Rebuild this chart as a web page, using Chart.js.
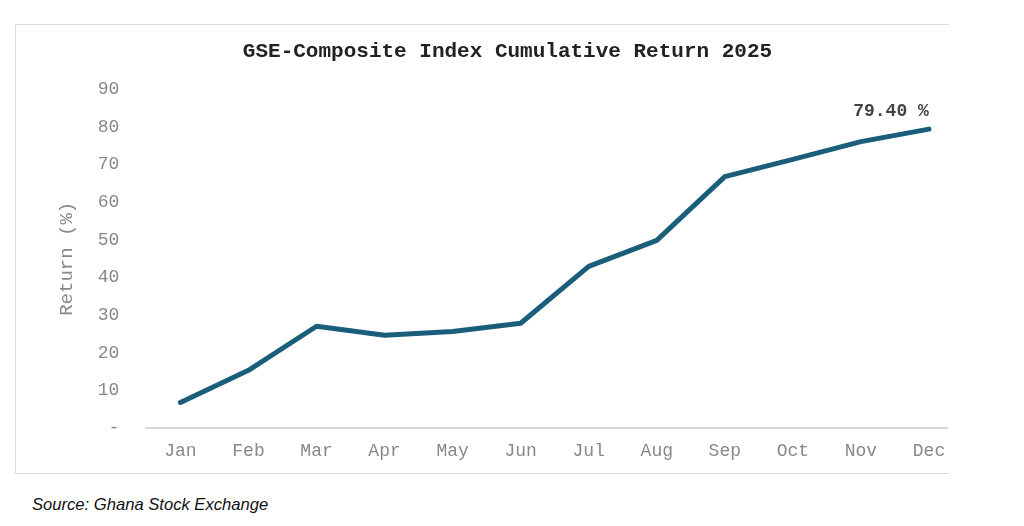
<!DOCTYPE html>
<html>
<head>
<meta charset="utf-8">
<script src="https://cdn.jsdelivr.net/npm/chart.js@4"></script>
<style>
    body { margin: 0; background: #fff; }
    #clip { position: absolute; left: 0; top: 0; width: 948px; height: 473px; overflow: hidden; }
    #box { position: relative; width: 965px; height: 477px; }
    #frame {
        position: absolute; left: 15px; top: 24px; width: 933px; height: 448px;
        border-top: 1.5px solid #dcdcdc; border-left: 1.5px solid #dcdcdc; border-bottom: 1.5px solid #dcdcdc;
        pointer-events: none;
    }
    #source {
        position: absolute; left: 32px; top: 495px;
        font: italic 16.6px "Liberation Sans", Arial, sans-serif; color: #111;
    }
</style>
</head>
<body>
<div id="clip"><div id="box"><canvas id="returnChart"></canvas></div></div>
<div id="frame"></div>
<div id="source">Source: Ghana Stock Exchange</div>
<script>
// Monthly cumulative return of the GSE-CI
const months = ["Jan", "Feb", "Mar", "Apr", "May", "Jun", "Jul", "Aug", "Sep", "Oct", "Nov", "Dec"];
const cumulativeReturn = [6.9, 15.4, 27.1, 24.7, 25.7, 27.9, 43.0, 49.9, 66.8, 71.4, 76.1, 79.4];
const yTicks = [0, 10, 20, 30, 40, 50, 60, 70, 80, 90];

const mono = "'Liberation Mono', 'Courier New', monospace";

// Writes the final value above the last point
const lastValueLabel = {
    id: 'lastValueLabel',
    afterDatasetsDraw(chart) {
        const meta = chart.getDatasetMeta(0);
        const last = meta.data[meta.data.length - 1];
        const value = cumulativeReturn[cumulativeReturn.length - 1];
        const ctx = chart.ctx;
        ctx.save();
        ctx.font = "bold 18px " + mono;
        ctx.fillStyle = "#444";
        ctx.textAlign = "center";
        ctx.textBaseline = "middle";
        ctx.fillText(value.toFixed(2) + " %", last.x - 38, last.y - 18);
        ctx.restore();
    }
};

document.addEventListener("DOMContentLoaded", () => {
    const ctx = document.getElementById("returnChart").getContext("2d");
    new Chart(ctx, {
        type: "line",
        data: {
            labels: months,
            datasets: [{
                data: cumulativeReturn,
                borderColor: "#1b5e7b",
                borderWidth: 5,
                borderCapStyle: "round",
                borderJoinStyle: "round",
                pointRadius: 0,
                tension: 0,
                fill: false
            }]
        },
        options: {
            responsive: true,
            maintainAspectRatio: false,
            animation: false,
            layout: { padding: { top: 24, left: 52, right: 2, bottom: 3 } },
            plugins: {
                legend: { display: false },
                tooltip: { enabled: false },
                title: {
                    display: true,
                    text: "GSE-Composite Index Cumulative Return 2025",
                    color: "#222",
                    font: { family: mono, size: 21, weight: "bold" },
                    padding: { top: 15, bottom: 25 }
                }
            },
            scales: {
                x: {
                    offset: true,
                    grid: { display: false, drawTicks: false },
                    border: { display: true, color: "#d9d9d9", width: 2 },
                    ticks: { color: "#888", font: { family: mono, size: 18 }, padding: 12, maxRotation: 0 }
                },
                y: {
                    min: 0,
                    max: 90,
                    afterBuildTicks: axis => { axis.ticks = yTicks.map(v => ({ value: v })); },
                    grid: { display: false, drawTicks: false },
                    border: { display: false },
                    ticks: {
                        color: "#888",
                        font: { family: mono, size: 18 },
                        padding: 27,
                        callback: value => value === 0 ? "-" : value
                    },
                    title: {
                        display: true,
                        text: "Return (%)",
                        color: "#888",
                        font: { family: mono, size: 19 },
                        padding: { top: 4, bottom: -8 }
                    }
                }
            }
        },
        plugins: [lastValueLabel]
    });
});
</script>
</body>
</html>
